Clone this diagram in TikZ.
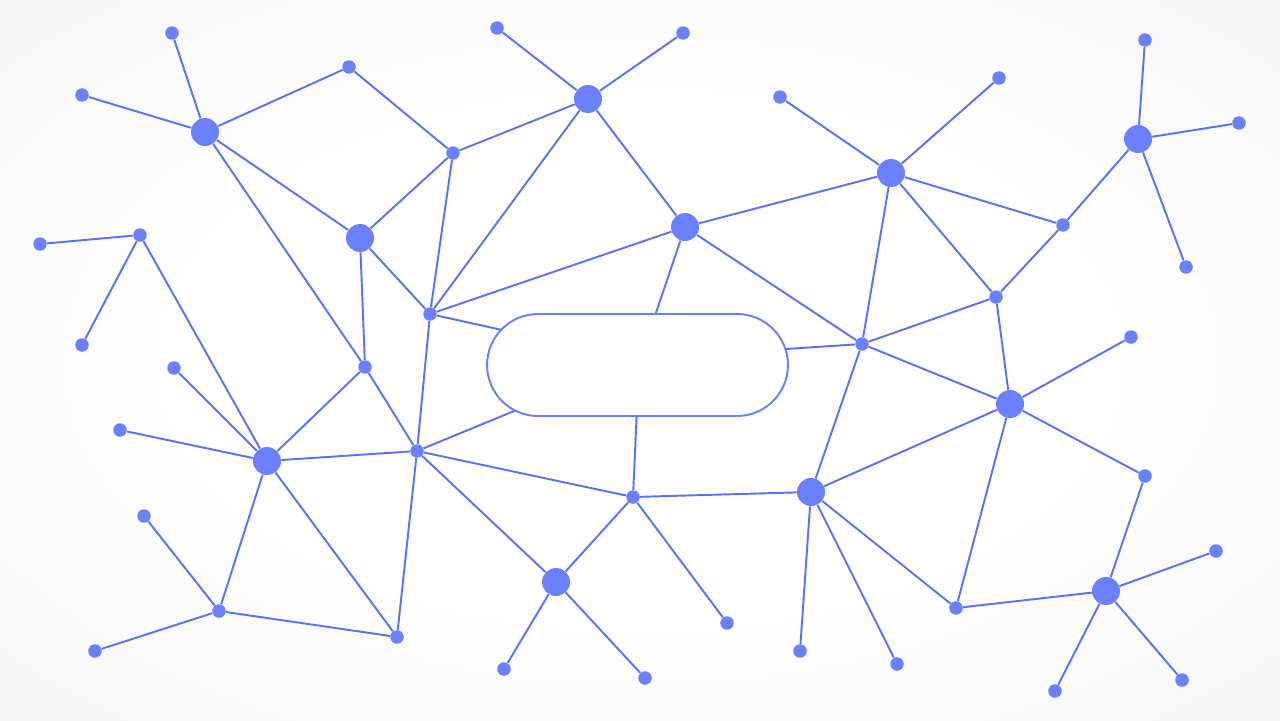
\documentclass[tikz,border=0pt]{standalone}
\usepackage{tikz}

\definecolor{netzblau}{RGB}{92,114,246}
\definecolor{punktblau}{RGB}{106,128,255}
\definecolor{randgrau}{RGB}{238,238,238}

\pgfdeclareradialshading{hintergrund}{\pgfpoint{0bp}{0bp}}{%
  color(0bp)=(white); color(18bp)=(white); color(50bp)=(randgrau); color(75bp)=(randgrau)}

\tikzset{
    punkt/.style={circle, fill=punktblau, inner sep=0pt, minimum size=0.27cm},
    knoten/.style={circle, fill=punktblau, inner sep=0pt, minimum size=0.56cm},
    kante/.style={draw=netzblau, line width=1.1pt},
    kapsel/.style={draw=punktblau, fill=white, line width=1.1pt, rounded corners=1.02cm,
        minimum width=6.02cm, minimum height=2.04cm, inner sep=0pt}
}

\begin{document}
\begin{tikzpicture}[x=0.02cm, y=-0.02cm]
    \useasboundingbox (0,0) rectangle (1280,720);
    \shade[shading=hintergrund] (0,0) rectangle (1280,720);
    \path node[knoten] (A) at (205,132) {}
        node[knoten] (B) at (360,238) {}
        node[knoten] (C) at (588,99) {}
        node[knoten] (D) at (685,227) {}
        node[knoten] (E) at (891,173) {}
        node[knoten] (F) at (1138,139) {}
        node[knoten] (G) at (267,461) {}
        node[knoten] (H) at (556,582) {}
        node[knoten] (I) at (811,492) {}
        node[knoten] (J) at (1010,404) {}
        node[knoten] (K) at (1106,591) {}
        node[punkt] (a1) at (172,33) {}
        node[punkt] (a2) at (82,95) {}
        node[punkt] (ab) at (349,67) {}
        node[punkt] (bc) at (453,153) {}
        node[punkt] (c1) at (497,28) {}
        node[punkt] (c2) at (683,33) {}
        node[punkt] (e1) at (780,97) {}
        node[punkt] (e2) at (999,78) {}
        node[punkt] (f1) at (1145,40) {}
        node[punkt] (f2) at (1239,123) {}
        node[punkt] (f3) at (1186,267) {}
        node[punkt] (ef) at (1063,225) {}
        node[punkt] (ej) at (996,297) {}
        node[punkt] (dj) at (862,344) {}
        node[punkt] (j1) at (1131,337) {}
        node[punkt] (jk) at (1145,476) {}
        node[punkt] (k1) at (1216,551) {}
        node[punkt] (k2) at (1182,680) {}
        node[punkt] (k3) at (1055,691) {}
        node[punkt] (ik) at (956,608) {}
        node[punkt] (i1) at (897,664) {}
        node[punkt] (i2) at (800,651) {}
        node[punkt] (hi) at (633,497) {}
        node[punkt] (h1) at (727,623) {}
        node[punkt] (h2) at (645,678) {}
        node[punkt] (h3) at (504,669) {}
        node[punkt] (gh) at (417,451) {}
        node[punkt] (g1) at (397,637) {}
        node[punkt] (g2) at (219,611) {}
        node[punkt] (g3) at (95,651) {}
        node[punkt] (g4) at (144,516) {}
        node[punkt] (g5) at (120,430) {}
        node[punkt] (g6) at (174,368) {}
        node[punkt] (bg) at (365,367) {}
        node[punkt] (bd) at (430,314) {}
        node[punkt] (l1) at (140,235) {}
        node[punkt] (l2) at (40,244) {}
        node[punkt] (l3) at (82,345) {};
    % Enden hinter der Kapsel
    \coordinate (m1) at (570,345);
    \coordinate (m2) at (640,360);
    \coordinate (m3) at (740,352);
    \coordinate (m4) at (570,388);
    \coordinate (m5) at (638,385);
    % linke Seite
    \draw[kante] (A) -- (a1);
    \draw[kante] (A) -- (a2);
    \draw[kante] (A) -- (ab);
    \draw[kante] (A) -- (B);
    \draw[kante] (A) -- (bg);
    \draw[kante] (ab) -- (bc);
    \draw[kante] (bc) -- (B);
    \draw[kante] (bc) -- (C);
    \draw[kante] (bc) -- (bd);
    \draw[kante] (B) -- (bd);
    \draw[kante] (B) -- (bg);
    \draw[kante] (C) -- (c1);
    \draw[kante] (C) -- (c2);
    \draw[kante] (C) -- (D);
    \draw[kante] (C) -- (bd);
    \draw[kante] (bd) -- (D);
    \draw[kante] (bd) -- (m1);
    \draw[kante] (bd) -- (gh);
    % rechte Seite
    \draw[kante] (D) -- (dj);
    \draw[kante] (D) -- (E);
    \draw[kante] (D) -- (m2);
    \draw[kante] (E) -- (e1);
    \draw[kante] (E) -- (e2);
    \draw[kante] (E) -- (ef);
    \draw[kante] (E) -- (ej);
    \draw[kante] (E) -- (dj);
    \draw[kante] (F) -- (f1);
    \draw[kante] (F) -- (f2);
    \draw[kante] (F) -- (f3);
    \draw[kante] (F) -- (ef);
    \draw[kante] (ef) -- (ej);
    \draw[kante] (ej) -- (dj);
    \draw[kante] (ej) -- (J);
    \draw[kante] (dj) -- (J);
    \draw[kante] (dj) -- (I);
    \draw[kante] (dj) -- (m3);
    \draw[kante] (J) -- (j1);
    \draw[kante] (J) -- (jk);
    \draw[kante] (J) -- (I);
    \draw[kante] (J) -- (ik);
    \draw[kante] (jk) -- (K);
    \draw[kante] (K) -- (k1);
    \draw[kante] (K) -- (k2);
    \draw[kante] (K) -- (k3);
    \draw[kante] (K) -- (ik);
    % unten
    \draw[kante] (I) -- (ik);
    \draw[kante] (I) -- (i1);
    \draw[kante] (I) -- (i2);
    \draw[kante] (I) -- (hi);
    \draw[kante] (hi) -- (h1);
    \draw[kante] (hi) -- (H);
    \draw[kante] (hi) -- (gh);
    \draw[kante] (hi) -- (m5);
    \draw[kante] (H) -- (h2);
    \draw[kante] (H) -- (h3);
    \draw[kante] (H) -- (gh);
    \draw[kante] (gh) -- (bg);
    \draw[kante] (gh) -- (G);
    \draw[kante] (gh) -- (g1);
    \draw[kante] (gh) -- (m4);
    \draw[kante] (bg) -- (G);
    \draw[kante] (G) -- (l1);
    \draw[kante] (G) -- (g6);
    \draw[kante] (G) -- (g5);
    \draw[kante] (G) -- (g2);
    \draw[kante] (G) -- (g1);
    \draw[kante] (l1) -- (l2);
    \draw[kante] (l1) -- (l3);
    \draw[kante] (g2) -- (g4);
    \draw[kante] (g2) -- (g3);
    \draw[kante] (g2) -- (g1);
    % Kapsel in der Mitte
    \node[kapsel] (mitte) at (637.5,365) {};
\end{tikzpicture}
\end{document}
